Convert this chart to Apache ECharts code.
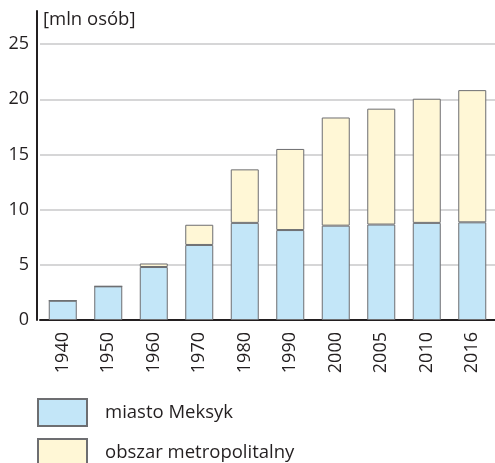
<!DOCTYPE html>
<html>
<head>
<meta charset="utf-8">
<script src="https://cdn.jsdelivr.net/npm/echarts@6/dist/echarts.min.js"></script>
<style>
  html, body { margin: 0; padding: 0; background: #fff; }
  #chart { width: 495px; height: 463px; }
</style>
</head>
<body>
<div id="chart"></div>
<script>
// lata
var years = ['1940', '1950', '1960', '1970', '1980', '1990', '2000', '2005', '2010', '2016'];
// mln osób - samo miasto
var cityValues = [1.75, 3.05, 4.8, 6.8, 8.8, 8.15, 8.55, 8.65, 8.8, 8.85];
// reszta obszaru metropolitalnego
var metroValues = [0, 0, 0.32, 1.83, 4.85, 7.35, 9.8, 10.5, 11.25, 11.98];
var yTicks = [0, 5, 10, 15, 20, 25];
var seriesNames = ['miasto Meksyk', 'obszar metropolitalny'];

var textColor = '#231f20';
var fontName = 'Open Sans';

var chart = echarts.init(document.getElementById('chart'));

// jedna legenda na pozycje, zeby staly jedna pod druga
function legendItem(name, top) {
    return {
        data: [name],
        left: 37,
        top: top,
        padding: 0,
        icon: 'rect',
        itemWidth: 49,
        itemHeight: 27,
        selectedMode: false,
        textStyle: { fontSize: 18.5, color: textColor, fontFamily: fontName, padding: [0, 0, 0, 13] }
    };
}

var option = {
    animation: false,
    textStyle: { fontFamily: fontName },
    grid: { left: 40, top: 11, width: 460, bottom: 143 },
    legend: [legendItem(seriesNames[0], 398), legendItem(seriesNames[1], 438)],
    xAxis: {
        type: 'category',
        data: years,
        axisLine: { lineStyle: { color: '#231f20', width: 2 } },
        axisTick: { show: false },
        axisLabel: { rotate: 90, margin: 12, fontSize: 18, color: textColor, fontFamily: fontName }
    },
    yAxis: {
        type: 'value',
        min: 0,
        max: 28,
        interval: 5,
        offset: 3,
        name: '[mln osób]',
        nameLocation: 'end',
        nameGap: -9,
        nameTextStyle: { align: 'left', verticalAlign: 'middle', fontSize: 18.5, color: textColor, fontFamily: fontName, padding: [0, 0, 0, 6] },
        axisLine: { show: true, lineStyle: { color: '#231f20', width: 2 } },
        axisTick: { show: false },
        axisLabel: {
            fontSize: 18, color: textColor, margin: 8, fontFamily: fontName,
            formatter: function (v) { return yTicks.indexOf(v) > -1 ? v : ''; }
        },
        splitLine: { showMaxLine: false, lineStyle: { color: '#c8c8ca', width: 1.5 } }
    },
    series: [
        {
            name: seriesNames[0],
            type: 'bar',
            stack: 'pop',
            barWidth: 28,
            data: cityValues,
            itemStyle: { color: '#c3e6f8', borderColor: '#6d6e71', borderWidth: 1 }
        },
        {
            name: seriesNames[1],
            type: 'bar',
            stack: 'pop',
            barWidth: 28,
            data: metroValues,
            itemStyle: { color: '#fff7d6', borderColor: '#6d6e71', borderWidth: 1 }
        }
    ]
};

chart.setOption(option);
</script>
</body>
</html>
